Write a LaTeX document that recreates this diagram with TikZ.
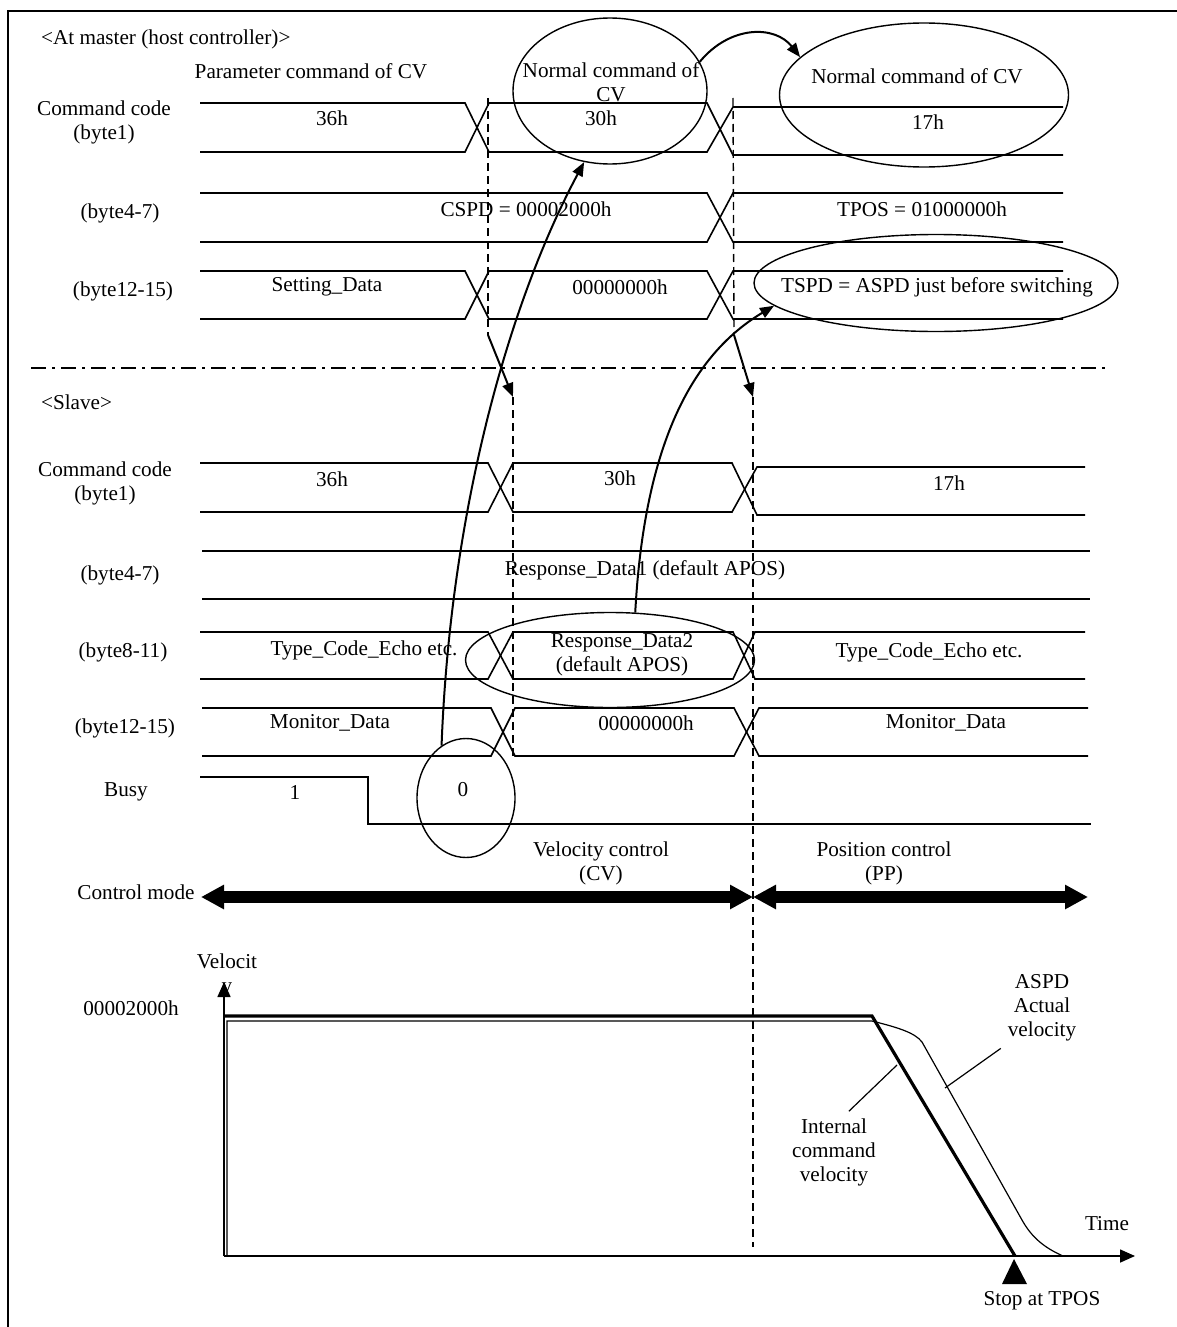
\documentclass[tikz,border=0pt]{standalone}
\usepackage{fontspec}
\setmainfont{Liberation Serif}
\usetikzlibrary{arrows.meta,shapes.geometric}

\tikzset{
  sig/.style={line width=0.8pt},
  bound/.style={line width=0.7pt,dash pattern=on 4pt off 2.5pt},
  oval/.style={draw,ellipse,line width=0.7pt,inner sep=0pt},
  jump/.style={-{Triangle[length=7pt,width=5.5pt]},line width=1pt},
  modearrow/.style={line width=6pt,{Triangle[length=11.5pt,width=11.5pt]}-{Triangle[length=11.5pt,width=11.5pt]}},
  axisarrow/.style={sig,-{Triangle[length=7.5pt,width=6.5pt]}},
}

\begin{document}
\begin{tikzpicture}[x=0.5pt,y=-0.5pt,every node/.style={font=\fontsize{10.6}{12}\selectfont,align=center}]
			\useasboundingbox (0,0) rectangle (1177,1327);
			\draw[line width=1pt] (8,1327) -- (8,11) -- (1177,11);
			% master side
			\node[anchor=west] (mhead) at (34,39) {<At master (host controller)>};
			\node (mpar) at (311,71) {Parameter command of CV};
			\node (mnorm) at (611,82) {Normal command of\\CV};
			\node (mnext) at (917,76) {Normal command of CV};
			\node[oval,minimum width=97pt,minimum height=73pt] (e30) at (610,91) {};
			\node[oval,minimum width=144.5pt,minimum height=72pt] (e17) at (924,95) {};
			% command code
			\node (mcmd) at (104,122) {Command code\\(byte1)};
			\draw[sig] (200,103) -- (465,103) -- (489,152) -- (707,152) -- (733,107) -- (1063,107);
			\draw[sig] (200,152) -- (465,152) -- (489,103) -- (707,103) -- (733,155) -- (1063,155);
			\node (m36) at (332,118) {36h};
			\node (m30) at (601,118) {30h};
			\node (m17) at (928,122) {17h};
			% byte4-7
			\node (mb47) at (120,213) {(byte4-7)};
			\draw[sig] (200,193) -- (707,193) -- (733,242) -- (1063,242);
			\draw[sig] (200,242) -- (707,242) -- (733,193) -- (1063,193);
			\node (mcspd) at (526,209) {CSPD = 00002000h};
			\node (mtpos) at (922,209) {TPOS = 01000000h};
			% byte12-15
			\node (mb1215) at (123,291) {(byte12-15)};
			\draw[sig] (200,271) -- (465,271) -- (489,319) -- (707,319) -- (733,271) -- (1063,271);
			\draw[sig] (200,319) -- (465,319) -- (489,271) -- (707,271) -- (733,319) -- (1063,319);
			\node (mset) at (327,287) {Setting\_Data};
			\node (mzero) at (620,287) {00000000h};
			\node (mtspd) at (937,287) {TSPD = ASPD just before switching};
			\node[oval,minimum width=182pt,minimum height=48.5pt] (etspd) at (936,283) {};
			% switching lines
			\coordinate (mb1) at (488,335);
			\coordinate (mb2) at (734,335);
			\coordinate (sb1) at (513,397);
			\coordinate (sb2) at (753,397);
			\draw[bound] (488,98) -- (mb1);
			\draw[bound] (733,98) -- (mb2);
			\draw[jump] (mb1) -- (sb1);
			\draw[jump] (mb2) -- (sb2);
			\draw[bound] (sb1) -- (513,760);
			\draw[bound] (sb2) -- (753,1247);
			\draw[line width=0.7pt,dash pattern=on 7.5pt off 3pt on 1.5pt off 3pt] (31,368) -- (1109,368);
			% slave side
			\node[anchor=west] (shead) at (34,402) {<Slave>};
			\node (scmd) at (105,483) {Command code\\(byte1)};
			\draw[sig] (200,463) -- (488,463) -- (513,512) -- (732,512) -- (757,467) -- (1085,467);
			\draw[sig] (200,512) -- (488,512) -- (513,463) -- (732,463) -- (757,515) -- (1085,515);
			\node (s36) at (332,479) {36h};
			\node (s30) at (620,478) {30h};
			\node (s17) at (949,483) {17h};
			% byte4-7
			\node (sb47) at (120,575) {(byte4-7)};
			\draw[sig] (202,551) -- (1090,551);
			\draw[sig] (202,599) -- (1090,599);
			\node (sresp1) at (645,570) {Response\_Data1 (default APOS)};
			% byte8-11
			\node (sb811) at (123,652) {(byte8-11)};
			\draw[sig] (200,632) -- (488,632) -- (513,679) -- (733,679) -- (755,632) -- (1085,632);
			\draw[sig] (200,679) -- (488,679) -- (513,632) -- (733,632) -- (755,679) -- (1085,679);
			\node (secho) at (364,650) {Type\_Code\_Echo etc.};
			\node (sresp2) at (622,655) {Response\_Data2\\(default APOS)};
			\node (secho2) at (929,652) {Type\_Code\_Echo etc.};
			\node[oval,minimum width=144.5pt,minimum height=47.5pt] (eresp) at (610,660) {};
			% byte12-15
			\node (sb1215) at (125,728) {(byte12-15)};
			\draw[sig] (202,708) -- (491,708) -- (515,756) -- (734,756) -- (759,708) -- (1088,708);
			\draw[sig] (202,756) -- (491,756) -- (515,708) -- (734,708) -- (759,756) -- (1088,756);
			\node (smon) at (330,723) {Monitor\_Data};
			\node (szero) at (646,723) {00000000h};
			\node (smon2) at (946,723) {Monitor\_Data};
			% busy
			\node (sbusy) at (126,792) {Busy};
			\draw[sig] (200,777) -- (368,777) -- (368,824) -- (1091,824);
			\node (bone) at (295,792) {1};
			\node (bzero) at (463,790) {0};
			\node[oval,minimum width=49pt,minimum height=59.5pt] (ezero) at (466,798) {};
			% references between the values
			\draw[jump] (ezero.115) .. controls (450,520) and (505,310) .. (e30.-110);
			\draw[jump] (e30.18) .. controls (730,25) and (775,25) .. (e17.163);
			\draw[jump] (eresp.62) .. controls (645,430) and (700,350) .. (etspd.188);
			% control mode
			\node (cmode) at (136,892) {Control mode};
			\draw[modearrow] (201,897) -- (753,897);
			\draw[modearrow] (753,897) -- (1088,897);
			\node (cvel) at (601,863) {Velocity control\\(CV)};
			\node (cpos) at (884,863) {Position control\\(PP)};
			% velocity
			\node (vlab) at (227,975) {Velocit\\y};
			\node (vmax) at (131,1008) {00002000h};
			\draw[axisarrow] (224,1256) -- (224,982);
			\draw[axisarrow] (224,1256) -- (1135,1256);
			\node (tlab) at (1107,1224) {Time};
			\draw[line width=1.6pt] (224,1016) -- (872,1016) -- (1015,1256);
			\draw[line width=0.6pt] (227,1256) -- (227,1021) -- (872,1021) .. controls (900,1028) and (915,1033) .. (922,1042) -- (1022,1220) .. controls (1032,1238) and (1045,1248) .. (1063,1256);
			\node (icv) at (834,1152) {Internal\\command\\velocity};
			\node (aspd) at (1042,1008) {ASPD\\Actual\\velocity};
			\coordinate (cmdpt) at (897,1065);
			\coordinate (actpt) at (945,1088);
			\draw[line width=0.6pt] (cmdpt) -- (icv.70);
			\draw[line width=0.6pt] (aspd.south west) -- (actpt);
			% stop mark
			\fill (1014,1259) -- (1027,1284) -- (1002,1284) -- cycle;
			\node (stop) at (1042,1301) {Stop at TPOS};
		\end{tikzpicture}
\end{document}
